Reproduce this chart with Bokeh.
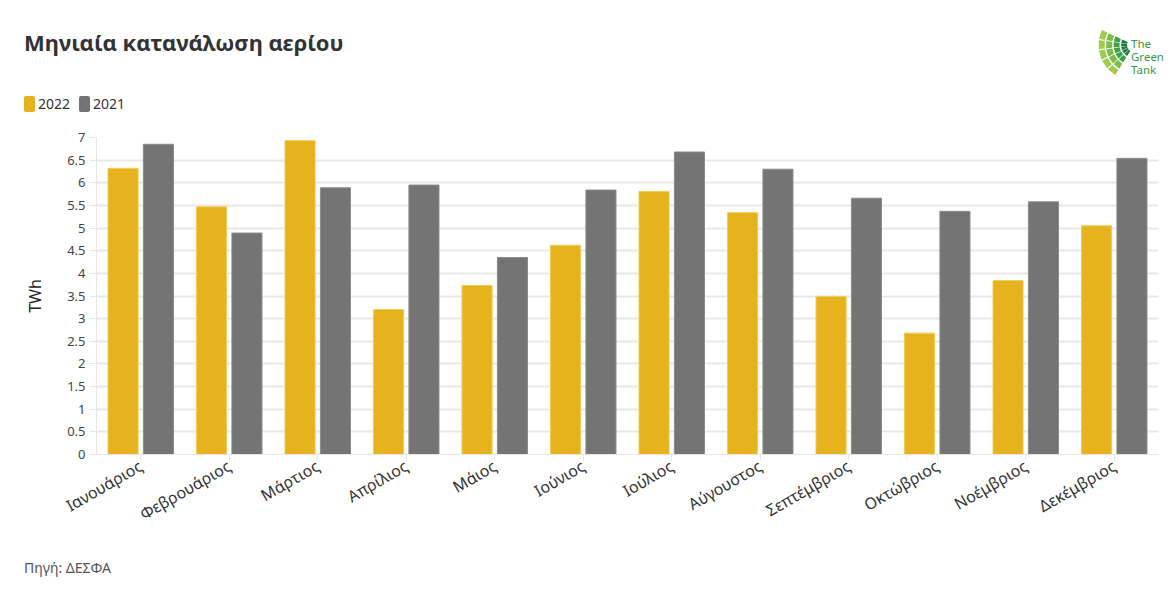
import math

from bokeh.embed import file_html
from bokeh.layouts import column
from bokeh.models import (ColumnDataSource, CustomJSTickFormatter, Div, FactorRange,
                          Range1d, SingleIntervalTicker)
from bokeh.plotting import figure
from bokeh.resources import INLINE
from bokeh.transform import dodge

months = ["Ιανουάριος", "Φεβρουάριος", "Μάρτιος", "Απρίλιος", "Μάιος", "Ιούνιος",
          "Ιούλιος", "Αύγουστος", "Σεπτέμβριος", "Οκτώβριος", "Νοέμβριος", "Δεκέμβριος"]
gas_2022 = [6.32, 5.47, 6.93, 3.20, 3.73, 4.62, 5.81, 5.34, 3.49, 2.68, 3.84, 5.05]
gas_2021 = [6.85, 4.89, 5.89, 5.95, 4.35, 5.84, 6.68, 6.30, 5.66, 5.37, 5.58, 6.54]
series_names = ["2022", "2021"]
title_text = "Μηνιαία κατανάλωση αερίου"
source_text = "Πηγή: ΔΕΣΦΑ"

FONT = "Noto Sans"
YELLOW = "#E6B21D"
GREY = "#747474"
W = 1170
HEADER_H = 127
FOOTER_H = 50
MAIN_H = 595 - HEADER_H - FOOTER_H


def svg_text(x, y, text, size, color, bold=False):
    weight = "bold" if bold else "normal"
    return (f'<text x="{x}" y="{y}" style="font-family:\'{FONT}\';font-size:{size}px;'
            f'font-weight:{weight};fill:{color}">{text}</text>')


# ---- header: title, legend and logo as one inline SVG ----
series_colors = [YELLOW, GREY]
legend_x = [24, 79]
parts = [svg_text(24, 51, title_text, 22, "#333333", bold=True)]
for lx, name, col in zip(legend_x, series_names, series_colors):
    parts.append(f'<rect x="{lx}" y="96" width="11" height="16" rx="2" fill="{col}"/>')
    parts.append(svg_text(lx + 14, 109, name, 14, "#333333"))

# logo: fan of green tiles plus wordmark
ring_colors = ["#1F7A3C", "#3DA047", "#79BF43", "#9FCC4C"]
cx, cy = 1134.0, 45.0
radii = [(7, 13), (14.5, 20.5), (22, 28), (29.5, 35.5)]
angles = [(155, 170), (172, 187), (189, 204), (206, 221), (223, 238)]
for ri, (r0, r1) in enumerate(radii):
    for a0, a1 in angles:
        t0, t1 = math.radians(a0), math.radians(a1)
        pts = [(cx + r0 * math.cos(t0), cy - r0 * math.sin(t0)),
               (cx + r1 * math.cos(t0), cy - r1 * math.sin(t0)),
               (cx + r1 * math.cos(t1), cy - r1 * math.sin(t1)),
               (cx + r0 * math.cos(t1), cy - r0 * math.sin(t1))]
        pts_s = " ".join(f"{x:.1f},{y:.1f}" for x, y in pts)
        parts.append(f'<polygon points="{pts_s}" fill="{ring_colors[ri]}"/>')
for word, by in zip(["The", "Green", "Tank"], [48, 61, 74]):
    parts.append(svg_text(1131, by, word, 11.5, "#3A9A3A"))

header = Div(text=f'<svg width="{W}" height="{HEADER_H}" style="display:block">'
                  + "".join(parts) + "</svg>",
             width=W, height=HEADER_H, margin=0)

# ---- main chart ----
src = ColumnDataSource(dict(month=months, y2022=gas_2022, y2021=gas_2021))

p = figure(width=W, height=MAIN_H, output_backend="svg", toolbar_location=None,
           x_range=FactorRange(*months), y_range=Range1d(0, 7),
           min_border_left=96, min_border_right=12, min_border_top=10,
           min_border_bottom=MAIN_H - 10 - 317, outline_line_color=None,
           background_fill_color="white", border_fill_color="white")

p.vbar(x=dodge("month", -0.2, range=p.x_range), top="y2022", width=0.34,
       source=src, fill_color=YELLOW, line_color="#F2CC55", line_width=1)
p.vbar(x=dodge("month", 0.2, range=p.x_range), top="y2021", width=0.34,
       source=src, fill_color=GREY, line_color="#8C8C8C", line_width=1)

p.yaxis.ticker = SingleIntervalTicker(interval=0.5)
p.yaxis.formatter = CustomJSTickFormatter(code="return String(Math.round(tick * 10) / 10)")
p.yaxis.axis_label = "TWh"
p.yaxis.axis_label_text_font = FONT
p.yaxis.axis_label_text_font_size = "16px"
p.yaxis.axis_label_text_font_style = "normal"
p.yaxis.axis_label_text_color = "#222222"
p.yaxis.axis_label_standoff = 18
p.yaxis.major_label_text_font = FONT
p.yaxis.major_label_text_font_size = "13px"
p.yaxis.major_label_text_color = "#444444"
p.yaxis.major_label_standoff = 4
p.yaxis.axis_line_color = "#E6E6E6"
p.yaxis.major_tick_line_color = "#E6E6E6"
p.yaxis.major_tick_out = 7
p.yaxis.major_tick_in = 0
p.yaxis.minor_tick_line_color = None

p.xaxis.major_label_orientation = math.pi / 6
p.xaxis.major_label_text_font = FONT
p.xaxis.major_label_text_font_size = "16px"
p.xaxis.major_label_text_color = "#333333"
p.xaxis.major_label_standoff = 4
p.xaxis.axis_line_color = "#E6E6E6"
p.xaxis.major_tick_line_color = "#E6E6E6"
p.xaxis.major_tick_out = 6
p.xaxis.major_tick_in = 0

p.xgrid.grid_line_color = None
p.ygrid.grid_line_color = "#E8E8E8"
p.ygrid.grid_line_width = 2

# ---- footer: source note ----
footer = Div(text=f'<svg width="{W}" height="{FOOTER_H}" style="display:block">'
                  + svg_text(24, 28, source_text, 14, "#555555") + "</svg>",
             width=W, height=FOOTER_H, margin=0)

layout = column(header, p, footer, spacing=0)
open("out.html", "w").write(file_html(layout, INLINE))
